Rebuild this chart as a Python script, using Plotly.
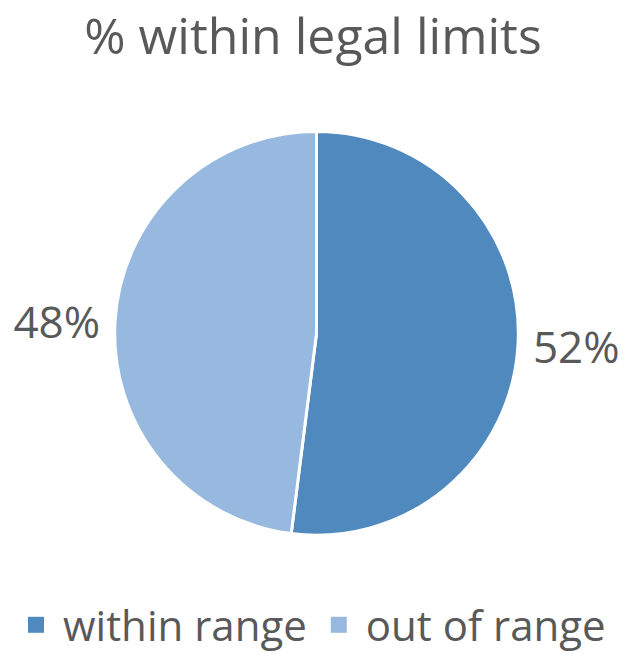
import plotly.graph_objects as go

labels = ["within range", "out of range"]
values = [52, 48]
colors = ["#4F89BD", "#97B9DF"]

FONT = "Open Sans"
GREY = "#595959"

fig = go.Figure(go.Pie(
    labels=labels,
    values=values,
    sort=False,
    direction="clockwise",
    rotation=0,
    marker=dict(colors=colors, line=dict(color="white", width=3)),
    textinfo="percent",
    texttemplate="%{percent:.0%}",
    textposition="outside",
    textfont=dict(size=44, color=GREY, family=FONT),
    domain=dict(x=[0.183, 0.838], y=[0.178, 0.798]),
    hoverinfo="skip",
    showlegend=False,
))

# legend entries with larger square symbols
for lab, col in zip(labels, colors):
    fig.add_trace(go.Scatter(
        x=[None], y=[None], mode="markers", name=lab,
        marker=dict(symbol="square", size=16, color=col),
        hoverinfo="skip", showlegend=True,
    ))

fig.update_layout(
    width=626, height=659,
    margin=dict(l=0, r=0, t=0, b=0),
    paper_bgcolor="white",
    plot_bgcolor="white",
    font=dict(family=FONT, color=GREY),
    xaxis=dict(visible=False),
    yaxis=dict(visible=False),
    title=dict(text="% within legal limits", x=0.5, xanchor="center",
               y=1 - 36/659, yanchor="middle",
               font=dict(size=50, color=GREY, family=FONT)),
    legend=dict(orientation="h", x=0.5, xanchor="center",
                y=1 - 633/659, yanchor="middle",
                font=dict(size=42, color=GREY, family=FONT),
                itemwidth=44, itemsizing="trace"),
)

fig.write_html("out.html")
